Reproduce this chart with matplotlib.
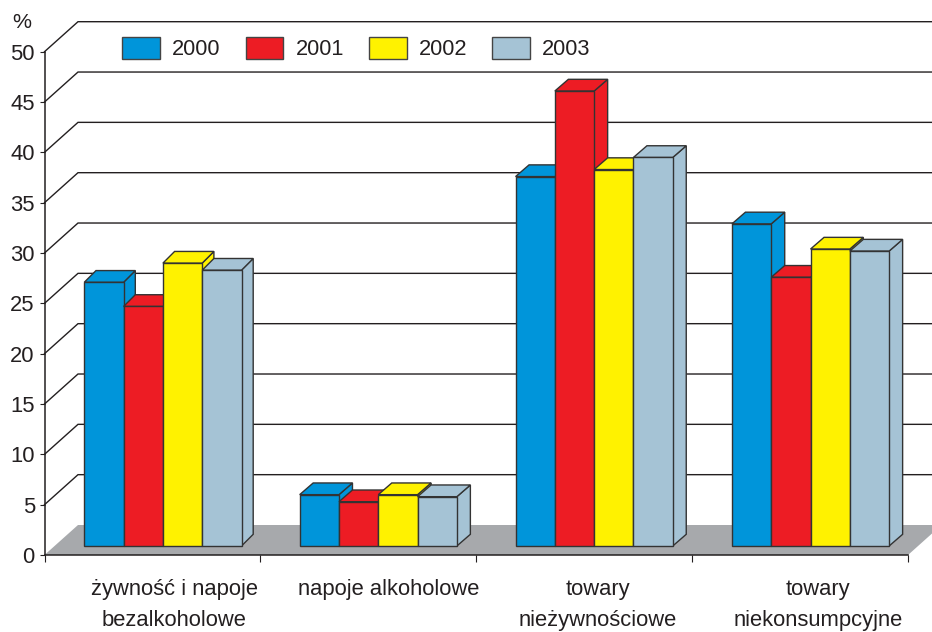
import matplotlib
matplotlib.use("Agg")
import matplotlib.pyplot as plt
from matplotlib.patches import Polygon, Rectangle

plt.rcParams['font.family'] = ['Liberation Sans', 'DejaVu Sans']

categories = ["żywność i napoje\nbezalkoholowe", "napoje alkoholowe",
              "towary\nnieżywnościowe", "towary\nniekonsumpcyjne"]
years = ["2000", "2001", "2002", "2003"]
v2000 = [26.2, 5.1, 36.7, 32.0]
v2001 = [23.8, 4.4, 45.2, 26.7]
v2002 = [28.1, 5.1, 37.4, 29.5]
v2003 = [27.4, 4.9, 38.6, 29.3]
series = [v2000, v2001, v2002, v2003]
colors = ["#0095DA", "#ED1C24", "#FFF200", "#A5C3D5"]
yticks = list(range(0, 51, 5))
label_pos = [0.600, 1.596, 2.564, 3.583]

INK = "#231F20"
W, H = 932, 632
fig = plt.figure(figsize=(W / 100, H / 100), dpi=100)
x0, x1, y0, y1 = 44.5, 908.0, 555.0, 51.7
ax = fig.add_axes([x0 / W, 1 - y0 / H, (x1 - x0) / W, (y0 - y1) / H])
ax.set_xlim(0, 4)
ax.set_ylim(0, 50)
px = 4 / (x1 - x0)       # data units per pixel, x
py = 50 / (y0 - y1)      # data units per pixel, y

# wall depth and bar depth
wdx, wdy = 33.5 * px, 30 * py
group_depth = [11.7, 13.5, 13.5, 13.5]
bdy = 11.7 * py
base = 9 * py
start = 39.8 * px
bw = 39.3 * px

# floor
ax.add_patch(Polygon([(0, 0), (wdx, wdy), (4 + wdx, wdy), (4, 0)], closed=True,
                     fc="#A7A9AC", ec="none", zorder=1, clip_on=False))
# gridlines
for v in yticks[1:]:
    ax.plot([0, wdx, 4 + wdx], [v, v + wdy, v + wdy], color=INK, lw=1.0,
            zorder=0.5, clip_on=False, solid_joinstyle="miter")

# bars
z = 2
for c in range(len(categories)):
    bdx = group_depth[c] * px
    for s, vals in enumerate(series):
        h = vals[c]
        l = c + start + s * bw - (0.5 * px if c in (1, 2) else 0)
        r = l + bw
        b = base
        t = base + h
        col = colors[s]
        kw = dict(fc=col, ec="#333333", lw=1.0, clip_on=False, joinstyle="miter")
        ax.add_patch(Polygon([(r, b), (r + bdx, b + bdy), (r + bdx, t + bdy), (r, t)],
                             closed=True, zorder=z, **kw))
        ax.add_patch(Polygon([(l, t), (l + bdx, t + bdy), (r + bdx, t + bdy), (r, t)],
                             closed=True, zorder=z, **kw))
        ax.bar(l, h, width=bw, bottom=b, align="edge", color=col, edgecolor="#333333",
               linewidth=1.0, zorder=z + 0.1, clip_on=False)
        z += 1

# axes
for name in ("top", "right"):
    ax.spines[name].set_visible(False)
for name in ("left", "bottom"):
    ax.spines[name].set_color(INK)
    ax.spines[name].set_linewidth(1.1)
    ax.spines[name].set_zorder(100)
ax.set_yticks(yticks)
ax.tick_params(axis="y", direction="out", length=5.5 * 0.72, width=0.8, color=INK,
               labelcolor=INK, labelsize=15.8, pad=3)
ax.set_xticks(range(5))
ax.set_xticklabels([])
ax.tick_params(axis="x", which="major", direction="out", length=7 * 0.72, width=0.8, color=INK)
ax.set_xticks(label_pos, minor=True)
ax.set_xticklabels(categories, minor=True, fontsize=15.8, color=INK, linespacing=1.62)
ax.tick_params(axis="x", which="minor", length=0, pad=17.5)

fig.text(22 / W, 1 - 23 / H, "%", ha="center", va="center", fontsize=15.4, color=INK)

# legend
proxies = [Rectangle((0, 0), 1, 1, fc=c, ec="#444444", lw=1.0) for c in colors]
leg = ax.legend(proxies, years, ncol=4, frameon=False, loc="upper left",
                bbox_to_anchor=(122 / W, 1 - 36.5 / H), bbox_transform=fig.transFigure,
                fontsize=15.7, borderpad=0, borderaxespad=0, handlelength=1.74,
                handleheight=1.22, handletextpad=0.55, columnspacing=1.15, labelcolor=INK)
leg.set_zorder(200)

fig.savefig("out.png", dpi=100)
